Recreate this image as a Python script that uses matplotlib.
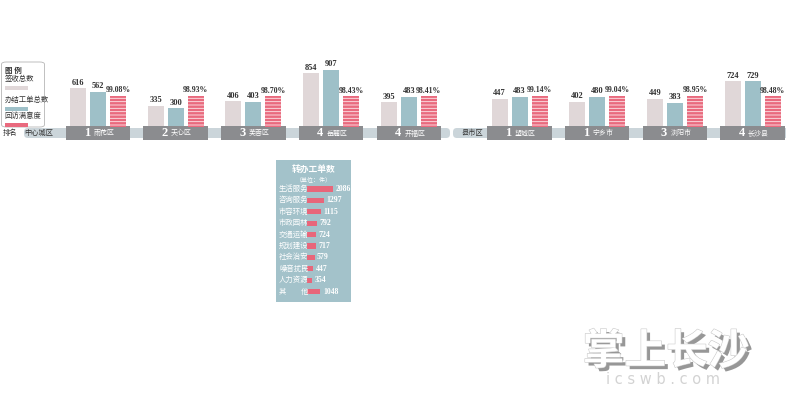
import numpy as np
import matplotlib
matplotlib.use("Agg")
import matplotlib.pyplot as plt
from matplotlib.patches import FancyBboxPatch, Rectangle
import matplotlib.patheffects as pe

plt.rcParams['font.family'] = ['Noto Sans CJK SC', 'DejaVu Sans']
plt.rcParams['hatch.linewidth'] = 0.6

# data
central_names = ['雨花区', '天心区', '芙蓉区', '岳麓区', '开福区']
central_rank = [1, 2, 3, 4, 4]
central_received = [616, 335, 406, 854, 395]
central_done = [562, 300, 403, 907, 483]
central_rate = [99.08, 98.93, 98.70, 98.43, 98.41]

county_names = ['望城区', '宁乡市', '浏阳市', '长沙县']
county_rank = [1, 1, 3, 4]
county_received = [447, 402, 449, 724]
county_done = [483, 480, 383, 729]
county_rate = [99.14, 99.04, 98.95, 98.48]

transfer_types = ['生活服务', '咨询服务', '市容环境', '市政园林', '交通运输',
                  '规划建设', '社会治安', '噪音扰民', '人力资源', '其　　他']
transfer_counts = [2086, 1297, 1115, 792, 724, 717, 579, 447, 354, 1048]

# colours
C_REC = '#e0d7d8'
C_DONE = '#9ec0c8'
C_RATE = '#e96a7e'
C_BOX = '#8b8c8f'
C_BAND = '#cbd5da'
C_PANEL = '#a3c2ca'
SERIF = 'Liberation Serif'

W, H = 786, 395
fig = plt.figure(figsize=(W / 100, H / 100), dpi=100)
fig.patch.set_facecolor('white')

def fx(x):
    return x / W

def fy(y):
    return 1 - y / H

# main bar axes: pixel rows 30..145, baseline at 127
cnt_px = 1 / 0.063      # counts per pixel
pct_px = 1 / 0.3135     # percent per pixel
spacing = 77.7
ax = fig.add_axes([0, fy(145), 1, (145 - 30) / H])
ax.set_xlim(-98 / spacing, (W - 98) / spacing)
ax.set_ylim(-18 * cnt_px, 97 * cnt_px)
ax.axis('off')
ax_r = ax.twinx()
ax_r.set_ylim(-18 * pct_px, 97 * pct_px)
ax_r.axis('off')

x_c = np.arange(len(central_names))
x_k = np.arange(len(county_names)) + len(central_names) + 33 / spacing
xs = np.concatenate([x_c, x_k])
names = central_names + county_names
ranks = central_rank + county_rank
received = central_received + county_received
done = central_done + county_done
rate = central_rate + county_rate

d = 20 / spacing
w = 16 / spacing
ax.bar(xs - d, received, w, color=C_REC, zorder=2)
ax.bar(xs, done, w, color=C_DONE, zorder=2)
ax_r.bar(xs + d, rate, w, color=C_RATE, edgecolor='#fde8eb', hatch='-----',
         linewidth=0, zorder=2)

for x, a, b, r in zip(xs, received, done, rate):
    ax.text(x - d, a + 1.5 * cnt_px, str(a), ha='center', va='bottom',
            family=SERIF, weight='bold', fontsize=6, color='#333333')
    ax.text(x, b + 1.5 * cnt_px, str(b), ha='center', va='bottom',
            family=SERIF, weight='bold', fontsize=6, color='#333333')
    ax_r.text(x + d, r + 1.5 * pct_px, f'{r:.2f}%', ha='center', va='bottom',
              family=SERIF, weight='bold', fontsize=5.6, color='#333333')

# ranking band
asp = cnt_px * spacing
band_l = FancyBboxPatch((24 / spacing - 98 / spacing, -11 * cnt_px),
                        (450 - 24) / spacing, 10 * cnt_px,
                        boxstyle='round,pad=0,rounding_size=0.05',
                        mutation_aspect=asp, color=C_BAND, lw=0, zorder=1)
band_r = FancyBboxPatch(((453 - 98) / spacing, -11 * cnt_px),
                        (W - 453 + 20) / spacing, 10 * cnt_px,
                        boxstyle='round,pad=0,rounding_size=0.05',
                        mutation_aspect=asp, color=C_BAND, lw=0, zorder=1)
ax.add_patch(band_l)
ax.add_patch(band_r)
ax.bar(xs, -14 * cnt_px, 0.83, bottom=1 * cnt_px, color=C_BOX, zorder=3)
for x, n, rk in zip(xs, names, ranks):
    ax.text(x - 0.1, -6.5 * cnt_px, str(rk), ha='right', va='center', family=SERIF,
            weight='bold', fontsize=9, color='white', zorder=4)
    ax.text(x - 0.06, -6.5 * cnt_px, n, ha='left', va='center', fontsize=5,
            color='white', zorder=4)
ax.text((10 - 98) / spacing, -6 * cnt_px, '排名', ha='center', va='center',
        fontsize=5.2, color='#333333')
ax.text((39 - 98) / spacing, -6 * cnt_px, '中心城区', ha='center', va='center',
        fontsize=5.2, color='#333333', zorder=2)
ax.text((473 - 98) / spacing, -6 * cnt_px, '县市区', ha='center', va='center',
        fontsize=5.2, color='#333333', zorder=2)

# legend box
fig.patches.append(FancyBboxPatch((fx(1.5), fy(127)), fx(43), (127 - 62) / H,
                                  boxstyle='round,pad=0,rounding_size=0.006',
                                  transform=fig.transFigure, facecolor='white',
                                  edgecolor='#b5b5b5', lw=0.6, zorder=0))
fig.text(fx(5), fy(70.5), '图 例', fontsize=5.4, weight='bold', va='center', color='#333333')
leg = [('签收总数', C_REC, 79), ('办结工单总数', C_DONE, 100), ('回访满意度', C_RATE, 116)]
for label, c, yy in leg:
    fig.text(fx(4.5), fy(yy), label, fontsize=5.3, va='center', color='#333333')
    fig.patches.append(Rectangle((fx(4.5), fy(yy + 11)), fx(23), 4.5 / H,
                                 transform=fig.transFigure, color=c, lw=0))

# inset panel: transferred work orders
cnt2_px = 80
row_px = 11.4
ax2 = fig.add_axes([fx(276), fy(302), fx(351 - 276), (302 - 160) / H])
ax2.set_facecolor(C_PANEL)
ax2.set_xlim(-(307.3 - 276) * cnt2_px, (351 - 307.3) * cnt2_px)
ax2.set_ylim((302 - 189) / row_px, -(189 - 160) / row_px)
for s in ax2.spines.values():
    s.set_visible(False)
ax2.set_xticks([])
ax2.set_yticks([])
rows = np.arange(len(transfer_types))
ax2.barh(rows, transfer_counts, 0.45, color='#e8667a')
for i, (t, v) in enumerate(zip(transfer_types, transfer_counts)):
    ax2.text(-(307.3 - 279) * cnt2_px, i, t, ha='left', va='center',
             fontsize=5.3, color='white')
    ax2.text(v + 2.5 * cnt2_px, i, str(v), ha='left', va='center', family=SERIF,
             weight='bold', fontsize=5.6, color='white')
ax2.text(0.5, 1 - (170.7 - 160) / 142, '转办工单数', transform=ax2.transAxes,
         ha='center', va='center', fontsize=6.3, weight='bold', color='white')
ax2.text(0.5, 1 - (179 - 160) / 142, '（单位：件）', transform=ax2.transAxes,
         ha='center', va='center', fontsize=4.3, color='white')

# watermark
fig.text(fx(666), fy(352), '掌上长沙', ha='center', va='center', fontsize=30,
         weight='bold', color='white',
         path_effects=[pe.SimplePatchShadow(offset=(2.5, -2.5), shadow_rgbFace='#8c8c8c', alpha=0.9),
                       pe.Stroke(linewidth=0.8, foreground='#c8c8c8'), pe.Normal()])
fig.text(fx(663), fy(380), 'i c s w b . c o m', ha='center', va='center', fontsize=10.5,
         color='#d3d3d3', family='DejaVu Sans')

fig.savefig('out.png', dpi=100, facecolor='white')
